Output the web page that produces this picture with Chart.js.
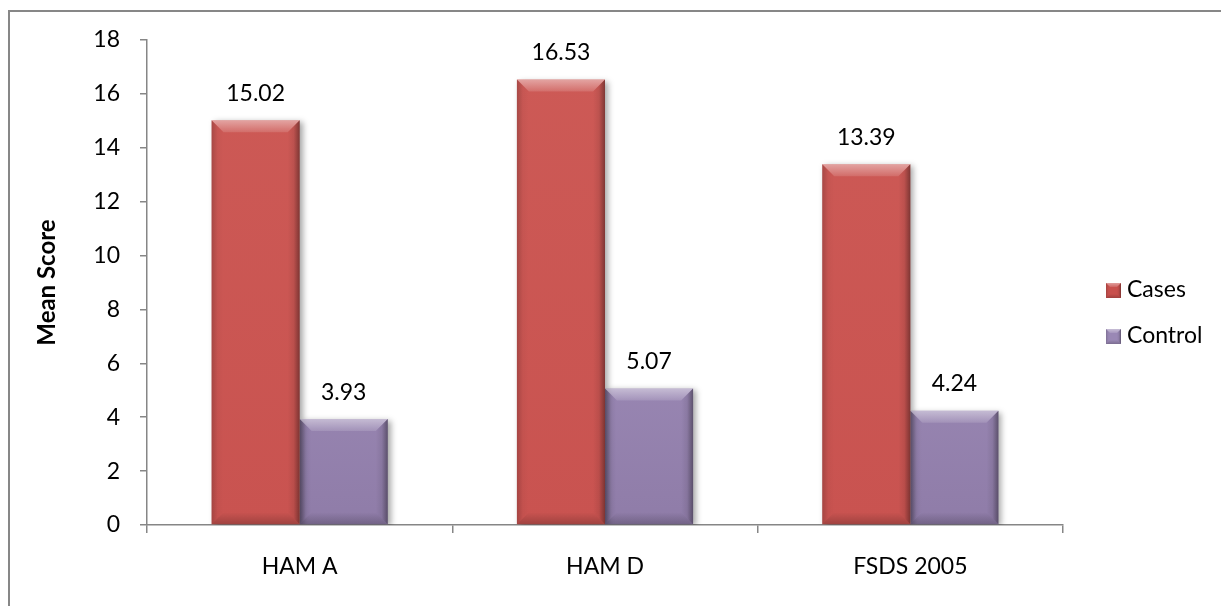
<!DOCTYPE html>
<html>
<head>
<meta charset="utf-8">
<script src="https://cdn.jsdelivr.net/npm/chart.js@4/dist/chart.umd.min.js"></script>
<style>
  html, body { margin: 0; padding: 0; background: #ffffff; overflow: hidden; }
  #wrap { position: relative; width: 1221px; height: 606px; }
  #frame {
    position: absolute; left: 8px; top: 10px; width: 1400px; height: 800px;
    border: 2px solid #878787; box-sizing: border-box; pointer-events: none;
  }
  canvas { position: absolute; left: 0; top: 0; }
</style>
</head>
<body>
<div id="wrap">
  <div id="frame"></div>
  <canvas id="chart" width="1221" height="606"></canvas>
</div>
<script>
// Mean scale scores per assessment, cases versus controls
const categories = ['HAM A', 'HAM D', 'FSDS 2005'];
const casesValues = [15.02, 16.53, 13.39];
const controlValues = [3.93, 5.07, 4.24];
const seriesNames = ['Cases', 'Control'];
const yTicks = [0, 2, 4, 6, 8, 10, 12, 14, 16, 18];

const FONT = 'Lato, "Open Sans", sans-serif';
const FS = 23;
const faceColors = {
  Cases: { top: '#cd5a56', bottom: '#c95350', legend: '#c8504d' },
  Control: { top: '#ad9cc9', bottom: '#8f7ca8', legend: '#9a88b5' }
};

function verticalFill(name) {
  return (ctx) => {
    const chart = ctx.chart;
    const area = chart.chartArea;
    if (!area) return faceColors[name].top;
    const g = chart.ctx.createLinearGradient(0, area.top, 0, area.bottom);
    g.addColorStop(0, faceColors[name].top);
    g.addColorStop(1, faceColors[name].bottom);
    return g;
  };
}

// Soft drop shadow behind each bar
const barShadow = {
  id: 'barShadow',
  beforeDatasetDraw(chart) {
    const c = chart.ctx;
    c.save();
    c.shadowColor = 'rgba(0,0,0,0.35)';
    c.shadowBlur = 6;
    c.shadowOffsetX = 3;
    c.shadowOffsetY = 2;
  },
  afterDatasetDraw(chart) {
    chart.ctx.restore();
  }
};

function bevel(c, left, top, right, bottom, b) {
  // top facet (light)
  let g = c.createLinearGradient(0, top, 0, top + b);
  g.addColorStop(0, 'rgba(255,255,255,0.45)');
  g.addColorStop(1, 'rgba(255,255,255,0.12)');
  c.fillStyle = g;
  c.beginPath();
  c.moveTo(left, top); c.lineTo(right, top);
  c.lineTo(right - b, top + b); c.lineTo(left + b, top + b);
  c.closePath(); c.fill();
  // right facet (dark)
  g = c.createLinearGradient(right - b, 0, right, 0);
  g.addColorStop(0, 'rgba(0,0,0,0.0)');
  g.addColorStop(0.5, 'rgba(0,0,0,0.08)');
  g.addColorStop(1, 'rgba(0,0,0,0.38)');
  c.fillStyle = g;
  c.beginPath();
  c.moveTo(right, top); c.lineTo(right, bottom);
  c.lineTo(right - b, bottom - b); c.lineTo(right - b, top + b);
  c.closePath(); c.fill();
  // left facet (slightly dark)
  g = c.createLinearGradient(left, 0, left + b, 0);
  g.addColorStop(0, 'rgba(0,0,0,0.18)');
  g.addColorStop(0.5, 'rgba(0,0,0,0.03)');
  g.addColorStop(1, 'rgba(0,0,0,0.0)');
  c.fillStyle = g;
  c.beginPath();
  c.moveTo(left, top); c.lineTo(left + b, top + b);
  c.lineTo(left + b, bottom - b); c.lineTo(left, bottom);
  c.closePath(); c.fill();
  // bottom facet (dark)
  g = c.createLinearGradient(0, bottom - b, 0, bottom);
  g.addColorStop(0, 'rgba(0,0,0,0.0)');
  g.addColorStop(1, 'rgba(0,0,0,0.2)');
  c.fillStyle = g;
  c.beginPath();
  c.moveTo(left, bottom); c.lineTo(right, bottom);
  c.lineTo(right - b, bottom - b); c.lineTo(left + b, bottom - b);
  c.closePath(); c.fill();
}

// Bevelled faces and value labels on top of the bars
const barDecor = {
  id: 'barDecor',
  afterDatasetsDraw(chart) {
    const c = chart.ctx;
    c.save();
    chart.data.datasets.forEach((ds, i) => {
      const meta = chart.getDatasetMeta(i);
      meta.data.forEach((el, j) => {
        const p = el.getProps(['x', 'y', 'base', 'width'], true);
        const left = p.x - p.width / 2, right = p.x + p.width / 2;
        bevel(c, left, p.y, right, p.base, 12);
        c.fillStyle = '#000';
        c.font = FS + 'px ' + FONT;
        c.textAlign = 'center';
        c.textBaseline = 'middle';
        c.fillText(ds.data[j].toFixed(2), p.x, p.y - 27);
      });
    });
    c.restore();
  }
};

// Legend to the right of the plot
const sideLegend = {
  id: 'sideLegend',
  afterDraw(chart) {
    const c = chart.ctx;
    c.save();
    const rows = [290, 336];
    chart.data.datasets.forEach((ds, i) => {
      const cy = rows[i];
      const x = 1106, s = 15, y = cy - 7;
      c.fillStyle = faceColors[ds.label].legend;
      c.fillRect(x, y, s, s);
      bevel(c, x, y, x + s, y + s, 4);
      c.fillStyle = '#000';
      c.font = FS + 'px ' + FONT;
      c.textAlign = 'left';
      c.textBaseline = 'middle';
      c.fillText(ds.label, 1127, cy);
    });
    c.restore();
  }
};

Chart.defaults.font.family = FONT;
Chart.defaults.font.size = FS;
Chart.defaults.color = '#000';

new Chart(document.getElementById('chart'), {
  type: 'bar',
  data: {
    labels: categories,
    datasets: [
      { label: seriesNames[0], data: casesValues, backgroundColor: verticalFill('Cases'), borderWidth: 0 },
      { label: seriesNames[1], data: controlValues, backgroundColor: verticalFill('Control'), borderWidth: 0 }
    ]
  },
  options: {
    responsive: false,
    animation: false,
    events: [],
    layout: { padding: { left: 0, top: 40, right: 158, bottom: 0 } },
    datasets: { bar: { categoryPercentage: 0.577, barPercentage: 1.0 } },
    plugins: {
      legend: { display: false },
      tooltip: { enabled: false }
    },
    scales: {
      x: {
        grid: { display: true, drawOnChartArea: false, offset: true, tickLength: 8, color: '#868686', lineWidth: 1.5 },
        border: { display: true, color: '#868686', width: 1.5 },
        ticks: { padding: 20, color: '#000', font: { size: FS } },
        afterFit(scale) { scale.height = 81; }
      },
      y: {
        min: 0,
        max: 18,
        afterBuildTicks(scale) { scale.ticks = yTicks.map(v => ({ value: v })); },
        grid: { display: true, drawOnChartArea: false, tickLength: 7, color: '#868686', lineWidth: 1.5 },
        border: { display: true, color: '#868686', width: 1.5 },
        ticks: { padding: 20, color: '#000', font: { size: FS } },
        title: { display: true, text: 'Mean Score', color: '#000', font: { size: 24, weight: 'bold' }, padding: { top: 33, bottom: 0 } },
        afterFit(scale) { scale.width = 147; }
      }
    }
  },
  plugins: [barShadow, barDecor, sideLegend]
});
</script>
</body>
</html>
